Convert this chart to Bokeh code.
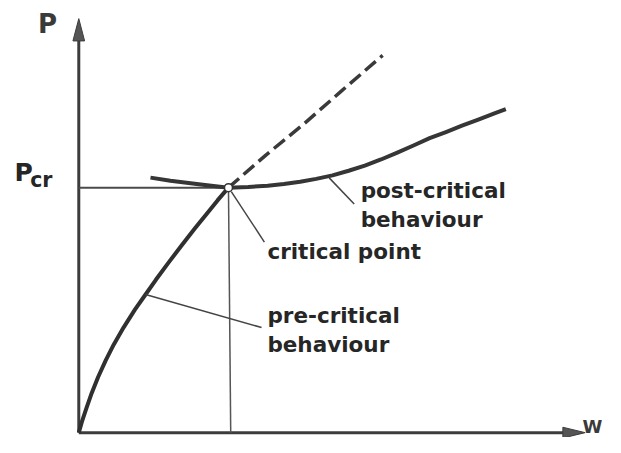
from bokeh.plotting import figure
from bokeh.models import Range1d
from bokeh.core.properties import value
from bokeh.embed import file_html
from bokeh.resources import INLINE

# ---- data (W = deflection, P = load; critical point at W=1, P=1) ----
pre_w = [0.0, 0.021, 0.050, 0.086, 0.130, 0.180, 0.234, 0.299, 0.375, 0.446, 0.515,
         0.602, 0.688, 0.775, 0.862, 0.927, 1.0]
pre_p = [0.0, 0.045, 0.098, 0.161, 0.228, 0.295, 0.360, 0.429, 0.502, 0.564, 0.624,
         0.696, 0.765, 0.833, 0.899, 0.948, 1.0]

post_w = [0.479, 0.612, 0.829, 1.0, 1.132, 1.262, 1.370, 1.479, 1.586, 1.695, 1.803,
          1.911, 2.019, 2.128, 2.236, 2.344, 2.453, 2.560, 2.669, 2.777, 2.853]
post_p = [1.041, 1.028, 1.012, 1.0, 1.003, 1.008, 1.015, 1.024, 1.036, 1.050, 1.069,
          1.090, 1.115, 1.143, 1.172, 1.202, 1.227, 1.253, 1.278, 1.303, 1.321]

lin_w = [1.0, 1.25, 1.5, 1.75, 2.03]
lin_p = [1.0, 1.133, 1.258, 1.392, 1.54]

w_cr, p_cr = 1.0, 1.0
w_axis_end, p_axis_end = 3.383, 1.690

# leader lines: (curve point) -> (label point)
lead_post = ([1.673, 1.840], [1.040, 0.933])
lead_crit = ([1.019, 1.240], [0.984, 0.778])
lead_pre = ([0.446, 1.221], [0.564, 0.429])

labels = ["post-critical", "behaviour", "critical point", "pre-critical", "behaviour"]
label_w = [1.883, 1.883, 1.260, 1.260, 1.260]
label_p = [0.988, 0.869, 0.738, 0.480, 0.361]

INK = "#262626"
FONT = value("DejaVu Sans")

p = figure(width=605, height=437, output_backend="svg", toolbar_location=None,
           x_range=Range1d(-0.5230, 3.5189), y_range=Range1d(-0.0198, 1.7640),
           x_axis_location=None, y_axis_location=None,
           min_border=0, min_border_left=0, min_border_right=0,
           min_border_top=0, min_border_bottom=0)
p.grid.visible = False
p.outline_line_color = None
p.background_fill_color = "white"
p.border_fill_color = "white"

# axes with arrowheads
p.line([0, 0], [0, p_axis_end - 0.05], line_color="#3c3c3c", line_width=3)
p.line([0, w_axis_end - 0.08], [0, 0], line_color="#3c3c3c", line_width=3)
p.patch([0, -0.039, 0.039], [p_axis_end, p_axis_end - 0.091, p_axis_end - 0.091],
        fill_color="#555555", line_color="#3c3c3c", line_width=1)
p.patch([w_axis_end, w_axis_end - 0.149, w_axis_end - 0.149], [0, 0.022, -0.022],
        fill_color="#555555", line_color="#3c3c3c", line_width=1)

# reference lines at the critical point
p.line([0, w_cr], [p_cr, p_cr], line_color="#4a4a4a", line_width=2)
p.line([w_cr, w_cr + 0.015], [p_cr, 0], line_color="#555555", line_width=1.5)

# curves
p.line(lin_w, lin_p, line_color="#3a3a3a", line_width=3.5, line_dash="14 6")
p.line(post_w, post_p, line_color="#363636", line_width=4, line_join="round")
p.line(pre_w, pre_p, line_color="#303030", line_width=4, line_join="round")

# leader lines
for lw, lp in (lead_post, lead_crit, lead_pre):
    p.line(lw, lp, line_color="#444444", line_width=1.5)

# critical point marker
p.scatter([w_cr], [p_cr], size=8, marker="circle", fill_color="white",
          line_color="#333333", line_width=1.5)

# annotation texts
p.text(label_w, label_p, text=labels, text_font=FONT,
       text_font_style="bold", text_font_size="21.5px", text_color=INK,
       text_baseline="middle", text_align="left")

# axis titles
p.text([-0.273], [1.669], text=["P"], text_font=FONT,
       text_font_style="bold", text_font_size="26px", text_color="#3a3a3a",
       text_baseline="middle")
p.text([-0.429], [1.060], text=["P"], text_font=FONT,
       text_font_style="bold", text_font_size="25px", text_color=INK,
       text_baseline="middle")
p.text([-0.325], [1.030], text=["cr"], text_font=FONT,
       text_font_style="bold", text_font_size="20.5px", text_color=INK,
       text_baseline="middle")
p.text([3.365], [0.026], text=["W"], text_font=FONT,
       text_font_style="bold", text_font_size="18px", text_color="#3a3a3a",
       text_baseline="middle")

open("out.html", "w").write(file_html(p, INLINE))
